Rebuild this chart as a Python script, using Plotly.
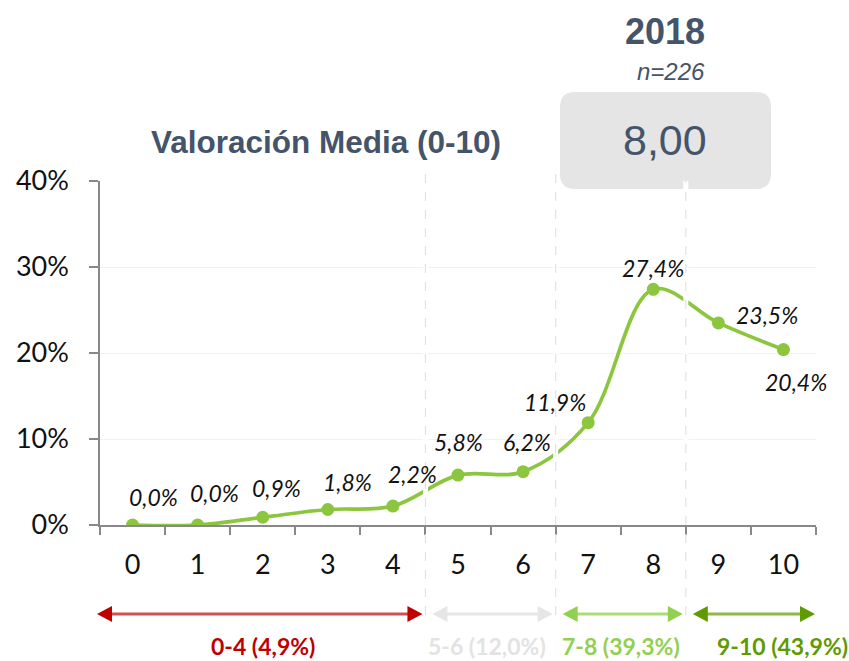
import plotly.graph_objects as go

# ---- data ----
categories = ["0", "1", "2", "3", "4", "5", "6", "7", "8", "9", "10"]
values = [0.0, 0.0, 0.9, 1.8, 2.2, 5.8, 6.2, 11.9, 27.4, 23.5, 20.4]
y_ticks = [0, 10, 20, 30, 40]
y_tick_labels = ["0%", "10%", "20%", "30%", "40%"]
group_names = ["0-4", "5-6", "7-8", "9-10"]
group_start = [0, 5, 7, 9]
group_end = [4, 6, 8, 10]
group_label_color = ["#C00000", "#E3E3E3", "#92D050", "#5F9A00"]
group_head_color = ["#C00000", "#E6E6E6", "#92D050", "#5F9A00"]
group_shaft_color = ["#D45050", "#E6E6E6", "#ABDC78", "#8DB84A"]
title_text = "Valoración Media (0-10)"
year_text = "2018"
n_text = "n=226"
mean_text = "8,00"

# label offsets (pixels) relative to each point
lbl_dx = [21, 17, 14, 20, 20, 0, 4, -33, 0, 49, 13]
lbl_dy = [28, 32, 29, 28, 32, 33, 30, 21, 21, 8, -32]

W, H = 849, 661
ML, MR, MT, MB = 100, 33, 181, 136
PW, PH = W - ML - MR, H - MT - MB
N = len(categories)


def pxx(x):
    return (x - ML) / PW


def pxy(y):
    return (H - MB - y) / PH


def cat_px(c):
    return ML + (c + 0.5) * PW / N


LINE = "#8CC63F"
fig = go.Figure()
fig.add_trace(go.Scatter(
    x=categories, y=values, mode="lines+markers",
    line=dict(color=LINE, width=3.7, shape="spline", smoothing=1.0),
    marker=dict(color=LINE, size=13),
    hoverinfo="skip", showlegend=False,
))

ann = []
for i, (c, v) in enumerate(zip(categories, values)):
    ann.append(dict(
        x=i, y=v, xref="x", yref="y", text=f"{v:.1f}%".replace(".", ","),
        showarrow=False, xshift=lbl_dx[i], yshift=lbl_dy[i],
        xanchor="center", yanchor="middle",
        font=dict(family="Lato", size=23, color="#111111", style="italic"),
    ))

shapes = []
# white gaps + dashed separators at group boundaries
for s in group_start[1:]:
    b = s - 0.5
    shapes.append(dict(type="line", xref="x", yref="y", x0=b, x1=b, y0=1, y1=40,
                       line=dict(color="white", width=5), layer="above"))
    shapes.append(dict(type="line", xref="x", yref="paper", x0=b, x1=b,
                       y0=pxy(615), y1=pxy(172),
                       line=dict(color="#E2E2E2", width=1.2, dash="dash"), layer="above"))

# grey rounded box
bx0, bx1, by0, by1, r = 560, 771, 92, 189, 15
path = (f"M {pxx(bx0 + r)},{pxy(by0)} L {pxx(bx1 - r)},{pxy(by0)} "
        f"Q {pxx(bx1)},{pxy(by0)} {pxx(bx1)},{pxy(by0 + r)} "
        f"L {pxx(bx1)},{pxy(by1 - r)} Q {pxx(bx1)},{pxy(by1)} {pxx(bx1 - r)},{pxy(by1)} "
        f"L {pxx(bx0 + r)},{pxy(by1)} Q {pxx(bx0)},{pxy(by1)} {pxx(bx0)},{pxy(by1 - r)} "
        f"L {pxx(bx0)},{pxy(by0 + r)} Q {pxx(bx0)},{pxy(by0)} {pxx(bx0 + r)},{pxy(by0)} Z")
shapes.append(dict(type="path", xref="paper", yref="paper", path=path,
                   fillcolor="#E5E5E5", line=dict(width=0), layer="below"))

# group arrows
ay = 614
hl, hh = 15, 8
for g in range(len(group_names)):
    xl = cat_px(group_start[g] - 0.5) - 3 + (0 if g == 0 else 10)
    xr = cat_px(group_end[g] + 0.5) - 3
    if g == 3:
        xr = cat_px(group_end[g] + 0.5) - 1
    shapes.append(dict(type="line", xref="paper", yref="paper",
                       x0=pxx(xl + hl - 1), x1=pxx(xr - hl + 1), y0=pxy(ay), y1=pxy(ay),
                       line=dict(color=group_shaft_color[g], width=3), layer="above"))
    tri_l = (f"M {pxx(xl)},{pxy(ay)} L {pxx(xl + hl)},{pxy(ay - hh)} "
             f"L {pxx(xl + hl)},{pxy(ay + hh)} Z")
    tri_r = (f"M {pxx(xr)},{pxy(ay)} L {pxx(xr - hl)},{pxy(ay - hh)} "
             f"L {pxx(xr - hl)},{pxy(ay + hh)} Z")
    for t in (tri_l, tri_r):
        shapes.append(dict(type="path", xref="paper", yref="paper", path=t,
                           fillcolor=group_head_color[g], line=dict(width=0), layer="above"))
    tot = sum(values[group_start[g]:group_end[g] + 1])
    ann.append(dict(
        x=(group_start[g] + group_end[g]) / 2, y=pxy(646), xref="x", yref="paper",
        text=f"<b>{group_names[g]} ({tot:.1f}%)</b>".replace(".", ","),
        showarrow=False, xshift=(32 if g == 3 else (-4 if g == 1 else 0)),
        xanchor="center", yanchor="middle",
        font=dict(family="Lato", size=23, color=group_label_color[g]),
    ))

# header texts
hdr = dict(xref="paper", yref="paper", showarrow=False, xanchor="center", yanchor="middle")
ann.append(dict(x=pxx(326), y=pxy(142), text=f"<b>{title_text}</b>",
                font=dict(family="Liberation Sans", size=31.5, color="#44546A"), **hdr))
ann.append(dict(x=pxx(665), y=pxy(32), text=f"<b>{year_text}</b>",
                font=dict(family="Liberation Sans", size=36, color="#44546A"), **hdr))
ann.append(dict(x=pxx(671), y=pxy(71), text=f"<i>{n_text}</i>",
                font=dict(family="Liberation Sans", size=24, color="#44546A"), **hdr))
ann.append(dict(x=pxx(665), y=pxy(140), text=mean_text,
                font=dict(family="Liberation Sans", size=43, color="#44546A"), **hdr))

fig.update_layout(
    width=W, height=H,
    margin=dict(l=ML, r=MR, t=MT, b=MB, pad=0),
    plot_bgcolor="white", paper_bgcolor="white",
    annotations=ann, shapes=shapes,
    xaxis=dict(type="category", range=[-0.5, N - 0.5], tickson="boundaries",
               ticks="outside", ticklen=8, tickcolor="#888888", tickwidth=1.5,
               showline=True, linecolor="#888888", linewidth=1.5,
               showgrid=False, ticklabelstandoff=15,
               tickfont=dict(family="Lato", size=27, color="#111111")),
    yaxis=dict(range=[0, 40], tickvals=y_ticks, ticktext=y_tick_labels,
               ticks="outside", ticklen=9, tickcolor="#888888", tickwidth=1.5,
               showline=True, linecolor="#888888", linewidth=1.5,
               showgrid=True, gridcolor="#F2F2F2", gridwidth=1, zeroline=False,
               ticklabelstandoff=15,
               tickfont=dict(family="Lato", size=27, color="#111111")),
)

fig.write_html("out.html", config={"displayModeBar": False},
               post_script="document.body.style.margin='0';")
